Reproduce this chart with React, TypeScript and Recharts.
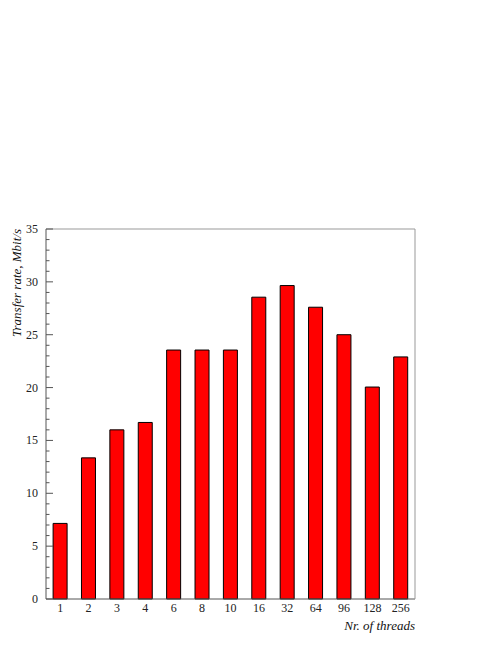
import React from 'react';
import { BarChart, Bar, XAxis, YAxis } from 'recharts';

const threads = ['1', '2', '3', '4', '6', '8', '10', '16', '32', '64', '96', '128', '256'];
const rates = [7.15, 13.35, 16.0, 16.7, 23.55, 23.55, 23.55, 28.55, 29.65, 27.6, 25.0, 20.05, 22.9];
const yTicks = Array.from({ length: 36 }, (_, i) => i);

const data = threads.map((t, i) => ({ t, v: rates[i] }));

const FONT = 'Liberation Serif, DejaVu Serif, serif';

const YTick = (props: any) => {
  const { x, y, payload } = props;
  const v = payload.value;
  const major = v % 5 === 0;
  const ax = x + 8;
  return (
    <g>
      <line x1={ax} y1={y} x2={ax + (major ? 7 : 3.5)} y2={y} stroke="#555" strokeWidth={1} />
      {major && (
        <text x={x} y={y} dy={4} textAnchor="end" style={{ fontFamily: FONT }} fontSize={12} fill="#222">
          {v}
        </text>
      )}
    </g>
  );
};

export default function App() {
  return (
    <div style={{ position: 'absolute', left: 0, top: 0, width: 498, height: 645, background: '#fff' }}>
      <BarChart
        width={498}
        height={645}
        data={data}
        margin={{ top: 228, right: 82, bottom: 45, left: 45 }}
        barCategoryGap="25%"
      >
        <XAxis
          dataKey="t"
          xAxisId="b"
          tickLine={false}
          axisLine={{ stroke: '#555' }}
          tickSize={0}
          tickMargin={4.5}
          height={1}
          tick={{ fontFamily: FONT, fontSize: 12, fill: '#222' }}
          interval={0}
        />
        <XAxis dataKey="t" xAxisId="top" orientation="top" tick={false} tickLine={false} height={1} axisLine={{ stroke: '#999' }} />
        <YAxis
          yAxisId="l"
          domain={[0, 35]}
          ticks={yTicks}
          interval={0}
          width={1}
          tickSize={0}
          tickMargin={8}
          tick={<YTick />}
          axisLine={{ stroke: '#555' }}
        />
        <YAxis yAxisId="r" orientation="right" domain={[0, 35]} width={1} tick={false} tickLine={false} axisLine={{ stroke: '#999' }} />
        <Bar dataKey="v" xAxisId="b" yAxisId="l" fill="#ff0000" stroke="#000" strokeWidth={1} isAnimationActive={false} />
        <text
          transform="translate(21,229) rotate(-90)"
          textAnchor="end"
          style={{ fontFamily: FONT, fontStyle: 'italic' }}
          fontSize={13}
          fill="#111"
        >
          Transfer rate, Mbit/s
        </text>
        <text x={415} y={630} textAnchor="end" style={{ fontFamily: FONT, fontStyle: 'italic' }} fontSize={13} fill="#111">
          Nr. of threads
        </text>
      </BarChart>
    </div>
  );
}
